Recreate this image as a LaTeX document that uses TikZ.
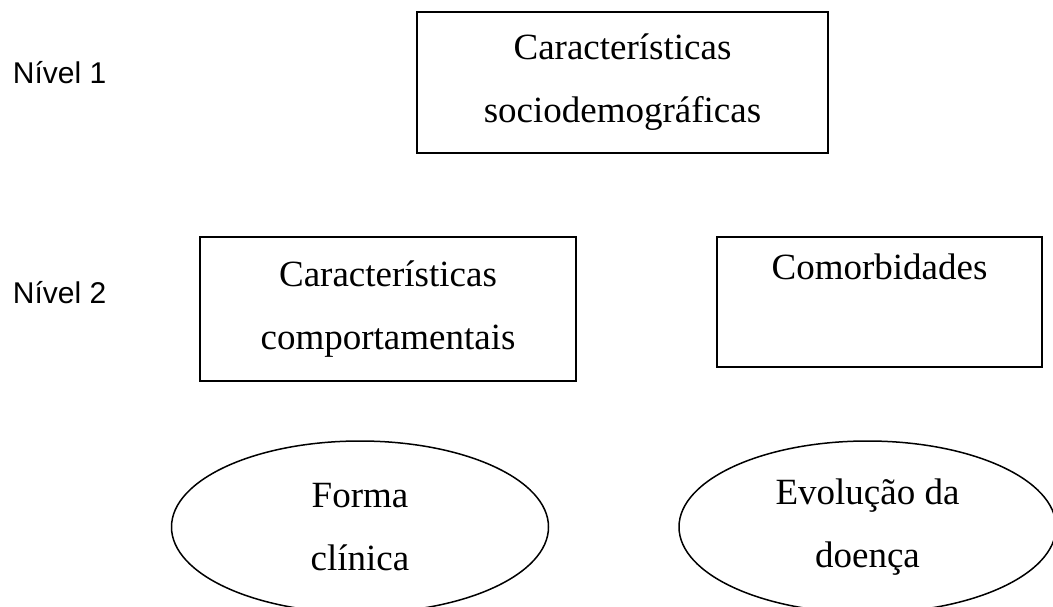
\documentclass[tikz,border=0pt]{standalone}
\usepackage{fontspec}
\setmainfont{Liberation Serif}
\newfontfamily\labfont{Liberation Sans}
\usetikzlibrary{shapes.geometric}
\begin{document}
\begin{tikzpicture}[x=1pt,y=-1pt,
  boxnode/.style={draw, line width=1.8pt, rectangle, inner sep=0pt, align=center,
    font=\fontsize{37}{63}\selectfont},
  ovalnode/.style={draw, line width=1.5pt, ellipse, inner sep=0pt, align=center,
    minimum width=377, minimum height=172, font=\fontsize{37}{63}\selectfont},
  levellabel/.style={font=\labfont\fontsize{30}{36}\selectfont, anchor=base west, inner sep=0pt}]
\useasboundingbox (0,0) rectangle (1053,606);
\clip (0,0) rectangle (1053,606);
\node[levellabel] (n1) at (12.7,83) {Nível 1};
\node[levellabel] (n2) at (12.7,303) {Nível 2};
\node[boxnode, minimum width=411, minimum height=141] (soc) at (622.5,82.5) {Características\\sociodemográficas};
\node[boxnode, minimum width=376, minimum height=144] (comp) at (388,309) {Características\\comportamentais};
\node[boxnode, minimum width=325, minimum height=130] (comor) at (879.5,302) {Comorbidades\\\vphantom{Cg}};
\node[ovalnode] (forma) at (360,527) {Forma\\clínica};
\node[ovalnode] (evol) at (867.5,527) {Evolução da\\doença};
\end{tikzpicture}
\end{document}
